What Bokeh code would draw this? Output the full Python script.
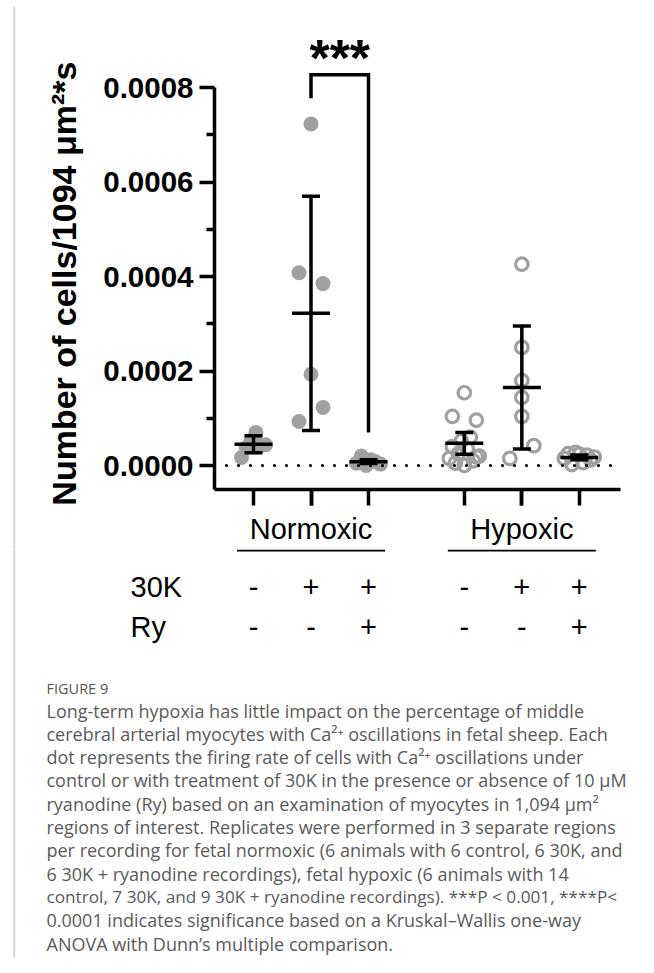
from bokeh.plotting import figure
from bokeh.layouts import column, row
from bokeh.models import FixedTicker, Label, Span, ColumnDataSource, PrintfTickFormatter, Range1d
from bokeh.core.properties import value
from bokeh.embed import file_html
from bokeh.resources import INLINE

# ---------------- data ----------------
groups = ["Normoxic", "Hypoxic"]
conditions = ["Control", "30K", "30K + Ry"]
row_labels = ["30K", "Ry"]
k30_marks = ["-", "+", "+"]
ry_marks = ["-", "-", "+"]

norm_ctrl = [0.000017, 0.000038, 0.000053, 0.000070, 0.000042, 0.000044]
norm_30k = [0.000723, 0.000408, 0.000385, 0.000193, 0.000093, 0.000123]
norm_ry = [0.000005, 0.000020, 0.000000, 0.000012, 0.000008, 0.000003]
hyp_ctrl = [0.000015, 0.000040, 0.000005, 0.000025, 0.000052, 0.000000, 0.000035,
            0.000060, 0.000010, 0.000018, 0.000020, 0.000154, 0.000104, 0.000096]
hyp_30k = [0.000426, 0.000250, 0.000180, 0.000144, 0.000104, 0.000015, 0.000042]
hyp_ry = [0.000015, 0.000025, 0.000002, 0.000028, 0.000024, 0.000006, 0.000022,
          0.000012, 0.000018]

means = [0.000045, 0.000322, 0.000008, 0.000047, 0.000165, 0.000017]
errs = [0.000018, 0.000248, 0.000004, 0.000023, 0.000130, 0.000005]

y_ticks = [0.0, 0.0002, 0.0004, 0.0006, 0.0008]
y_minor = [0.0001, 0.0003, 0.0005, 0.0007]
sig_text = "***"
sig_pair = (1, 2)
sig_bracket_top = 0.000827
sig_left_end = 0.000777
sig_right_end = 0.000070

y_label = "Number of cells/1094 \u03bcm\u00b2*s"
fig_title = "FIGURE 9"
caption = [
    "Long-term hypoxia has little impact on the percentage of middle",
    "cerebral arterial myocytes with Ca\u00b2\u207a oscillations in fetal sheep. Each",
    "dot represents the firing rate of cells with Ca\u00b2\u207a oscillations under",
    "control or with treatment of 30K in the presence or absence of 10 \u03bcM",
    "ryanodine (Ry) based on an examination of myocytes in 1,094 \u03bcm\u00b2",
    "regions of interest. Replicates were performed in 3 separate regions",
    "per recording for fetal normoxic (6 animals with 6 control, 6 30K, and",
    "6 30K + ryanodine recordings), fetal hypoxic (6 animals with 14",
    "control, 7 30K, and 9 30K + ryanodine recordings). ***P < 0.001, ****P<",
    "0.0001 indicates significance based on a Kruskal\u2013Wallis one-way",
    "ANOVA with Dunn\u2019s multiple comparison.",
]

series = [norm_ctrl, norm_30k, norm_ry, hyp_ctrl, hyp_30k, hyp_ry]
filled = [True, True, True, False, False, False]

# ---------------- layout helpers ----------------
STEP, GAP = 3, 5
positions = [STEP * (c + 1) + g * (STEP * (len(conditions) - 1) + GAP)
             for g in range(len(groups)) for c in range(len(conditions))]
n = len(conditions)
centers = [sum(positions[g * n:(g + 1) * n]) / n for g in range(len(groups))]

PX_X = 57.5 / STEP           # px per x unit
PX_Y = 94.5 / 0.0002         # px per y unit
X1_PAGE = 253                # px of first category
Y0_PAGE = 465                # px of value 0


def xv(page_x):
    return positions[0] + (page_x - X1_PAGE) / PX_X


def yv(page_y):
    return (Y0_PAGE - page_y) / PX_Y


def spread(vals, gap_px=15.0):
    """cluster nearby values; spread each cluster symmetrically (in data order)"""
    order = sorted(range(len(vals)), key=lambda i: vals[i])
    clusters, cur = [], [order[0]]
    for a, b in zip(order, order[1:]):
        if (vals[b] - vals[a]) * PX_Y < gap_px:
            cur.append(b)
        else:
            clusters.append(cur)
            cur = [b]
    clusters.append(cur)
    offs = [0.0] * len(vals)
    for cl in clusters:
        m = len(cl)
        if m > 1:
            half = 12.0 if m <= 6 else 15.0
            s = 2 * half / (m - 1)
            for j, i in enumerate(sorted(cl)):
                offs[i] = (j - (m - 1) / 2) * s
    return [o / PX_X for o in offs]


def blank_panel(width, height, x0, x1, y_top, y_bottom):
    f = figure(width=width, height=height, x_range=Range1d(x0, x1),
               y_range=Range1d(y_bottom, y_top), output_backend="svg",
               toolbar_location=None, x_axis_location=None, y_axis_location=None,
               min_border_left=0, min_border_right=0, min_border_top=0, min_border_bottom=0)
    f.frame_align = False
    f.outline_line_color = None
    f.xgrid.visible = False
    f.ygrid.visible = False
    f.background_fill_color = None
    f.border_fill_color = None
    return f


W = 638
TOP_H = 6
BW = 20
H1 = 549
H2 = 957 - H1
AX_W = 3.5
FONT = "Liberation Sans"
GRAY = "#a0a0a0"
BORDER = "#c8c8c8"

# ---------------- panel border strips ----------------
strip = blank_panel(W, TOP_H, 0, W, 0, TOP_H)
strip.segment(x0=[13], y0=[4.75], x1=[W], y1=[4.75], line_color=BORDER, line_width=1.5)
strip.segment(x0=[13.75], y0=[4], x1=[13.75], y1=[TOP_H], line_color=BORDER, line_width=1.5)

side = blank_panel(BW, H1 - TOP_H, 0, BW, TOP_H, H1)
side.segment(x0=[13.75], y0=[TOP_H], x1=[13.75], y1=[H1], line_color=BORDER, line_width=1.5)

# ---------------- chart ----------------
p = figure(width=W - BW, height=H1 - TOP_H,
           x_range=(xv(214), xv(620)), y_range=(yv(489), yv(30)),
           output_backend="svg", toolbar_location=None,
           min_border_left=214 - BW, min_border_right=W - 620,
           min_border_top=30 - TOP_H, min_border_bottom=H1 - 489)
p.frame_align = False
p.outline_line_color = None
p.xgrid.visible = False
p.ygrid.visible = False
p.background_fill_color = None
p.border_fill_color = None

p.yaxis.ticker = FixedTicker(ticks=y_ticks, minor_ticks=y_minor)
p.yaxis.formatter = PrintfTickFormatter(format="%.4f")
p.yaxis.bounds = (yv(489), y_ticks[-1])
p.yaxis.axis_line_width = AX_W
p.yaxis.major_tick_line_width = AX_W
p.yaxis.minor_tick_line_width = AX_W
p.yaxis.major_tick_out = 15
p.yaxis.major_tick_in = 0
p.yaxis.minor_tick_out = 8
p.yaxis.minor_tick_in = 0
p.yaxis.major_label_standoff = 6
p.yaxis.major_label_text_font = FONT
p.yaxis.major_label_text_font_style = "bold"
p.yaxis.major_label_text_font_size = "29.5px"
p.yaxis.major_label_text_color = "black"
p.yaxis.axis_label = y_label + "\u00a0" * 5
p.yaxis.axis_label_text_font = FONT
p.yaxis.axis_label_text_font_style = "bold"
p.yaxis.axis_label_text_font_size = "34px"
p.yaxis.axis_label_text_color = "black"
p.yaxis.axis_label_standoff = 17

p.xaxis.ticker = FixedTicker(ticks=centers, minor_ticks=positions)
p.xaxis.major_label_overrides = {c: g for c, g in zip(centers, groups)}
p.xaxis.axis_line_width = AX_W
p.xaxis.major_tick_line_width = AX_W
p.xaxis.minor_tick_line_width = AX_W
p.xaxis.major_tick_out = 16
p.xaxis.major_tick_in = 0
p.xaxis.minor_tick_out = 16
p.xaxis.minor_tick_in = 0
p.xaxis.major_label_standoff = 7
p.xaxis.major_label_text_font = FONT
p.xaxis.major_label_text_font_size = "29px"
p.xaxis.major_label_text_color = "black"

p.add_layout(Span(location=0, dimension="width", line_color="black",
                  line_width=3.2, line_dash="0 12", line_cap="round"))

for pos, vals, fill in zip(positions, series, filled):
    offs = spread(vals)
    src = ColumnDataSource(dict(x=[pos + o for o in offs], y=vals))
    if fill:
        p.scatter("x", "y", source=src, size=15, fill_color=GRAY, line_color=None)
    else:
        p.scatter("x", "y", source=src, size=12.5, fill_color=None,
                  line_color=GRAY, line_width=3.2)

MEAN_HW = 19 / PX_X
CAP_HW = 9 / PX_X
lo = [m - e for m, e in zip(means, errs)]
hi = [m + e for m, e in zip(means, errs)]
bars = ColumnDataSource(dict(
    x=positions, m=means, lo=lo, hi=hi,
    xm0=[x - MEAN_HW for x in positions], xm1=[x + MEAN_HW for x in positions],
    xc0=[x - CAP_HW for x in positions], xc1=[x + CAP_HW for x in positions]))
for a in [("x", "lo", "x", "hi"), ("xc0", "lo", "xc1", "lo"),
          ("xc0", "hi", "xc1", "hi"), ("xm0", "m", "xm1", "m")]:
    p.segment(*a, source=bars, line_color="black", line_width=AX_W)

xa, xb = positions[sig_pair[0]], positions[sig_pair[1]]
p.line([xa, xa, xb, xb], [sig_left_end, sig_bracket_top, sig_bracket_top, sig_right_end],
       line_color="black", line_width=AX_W, line_join="miter")
p.add_layout(Label(x=(xa + xb) / 2, y=yv(57), text=sig_text, text_align="center",
                   text_baseline="alphabetic", text_font=FONT, text_font_style="bold",
                   text_font_size="52px", text_color="black"))

# ---------------- lower panel: treatment rows and caption ----------------
q = blank_panel(W, H2, xv(0), xv(W), H1, 957)

q.segment(x0=[xv(13.75)], y0=[H1], x1=[xv(13.75)], y1=[957], line_color=BORDER, line_width=1.5)

q.segment(x0=[c - 74 / PX_X for c in centers], y0=[550] * len(centers),
          x1=[c + 74 / PX_X for c in centers], y1=[550] * len(centers),
          line_color="black", line_width=2)

rows_y = [586, 626]
q.text(x=[xv(130)] * 2, y=rows_y, text=row_labels, text_align="left",
       text_baseline="middle", text_font=value(FONT), text_font_size="29px",
       text_color="black")
mx, my, mt = [], [], []
for ry, marks in zip(rows_y, [k30_marks, ry_marks]):
    for g in range(len(groups)):
        for c, mk in enumerate(marks):
            mx.append(positions[g * n + c])
            my.append(ry)
            mt.append(mk)
q.text(x=mx, y=my, text=mt, text_align="center", text_baseline="middle",
       text_font=value(FONT), text_font_size="29px", text_color="black")

CAP_FONT = "Open Sans"
q.text(x=[xv(46)], y=[688], text=[fig_title], text_align="left", text_baseline="middle",
       text_font=value(CAP_FONT), text_font_size="14.5px", text_color="#555555")
cap_sizes = ["17.2px" if "***" in line else "18px" for line in caption]
q.text(x=[xv(46)] * len(caption), y=[710 + i * 23.3 for i in range(len(caption))],
       text=caption, text_align="left", text_baseline="middle",
       text_font=value(CAP_FONT), text_font_size=cap_sizes, text_color="#5a5a5a")

layout = column(strip, row(side, p, spacing=0), q, spacing=0)

open("out.html", "w").write(file_html(layout, INLINE))
